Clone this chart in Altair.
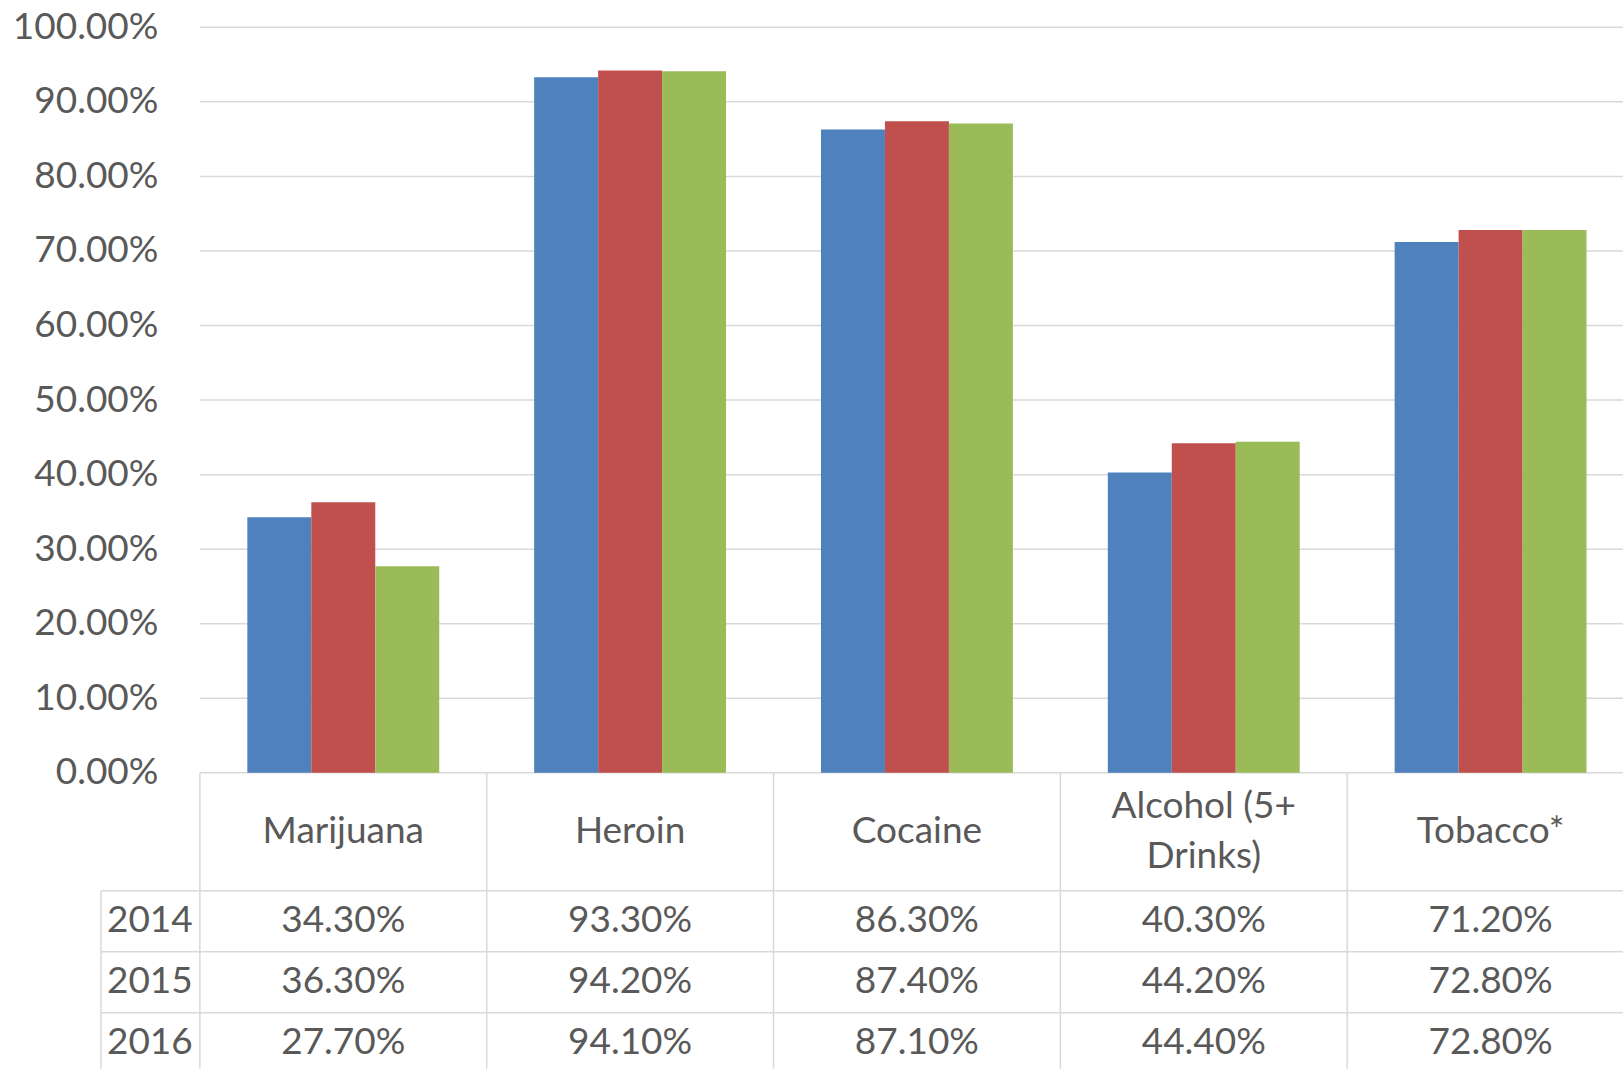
import altair as alt
import pandas as pd

# ---- data ----
categories = ["Marijuana", "Heroin", "Cocaine", "Alcohol (5+ Drinks)", "Tobacco*"]
header_labels = ["Marijuana", "Heroin", "Cocaine", "Alcohol (5+\nDrinks)", "Tobacco*"]
years = ["2014", "2015", "2016"]
values_2014 = [34.3, 93.3, 86.3, 40.3, 71.2]
values_2015 = [36.3, 94.2, 87.4, 44.2, 72.8]
values_2016 = [27.7, 94.1, 87.1, 44.4, 72.8]
y_ticks = [0, 10, 20, 30, 40, 50, 60, 70, 80, 90, 100]
colors = ["#4F81BD", "#C0504D", "#9BBB59"]

# ---- layout / style ----
W = 1424          # visible plot width
BAND_RANGE = 1435 # full category range (last band is cut by the window)
H_PLOT = 746
H_HEAD = 118
ROWS_RANGE = 183  # full range of the three table rows
H_BODY = 178      # visible part (the last row is cut by the window)
FONT = "Lato"
FS = 37
LH = 50
TXT = "#595959"
GRID = "#d9d9d9"
LW = 1.5

rows = []
for yr, vals in zip(years, [values_2014, values_2015, values_2016]):
    for c, v in zip(categories, vals):
        rows.append({"category": c, "year": yr, "value": v, "label": f"{v:.2f}%"})
df = pd.DataFrame(rows)
hdf = pd.DataFrame({"category": categories, "label": header_labels,
                    "nlines": [lab.count("\n") + 1 for lab in header_labels]})
rdf = pd.DataFrame({"row": years})
tdf = pd.DataFrame({"tick": y_ticks})

xscale = alt.Scale(domain=categories, range=[0, BAND_RANGE], paddingInner=0, paddingOuter=0)
yscale = alt.Scale(domain=[0, 100], nice=False, zero=True)
rowscale = alt.Scale(domain=years, range=[0, ROWS_RANGE], paddingInner=0, paddingOuter=0)

yaxis = alt.Axis(
    values=y_ticks, labelExpr="format(datum.value, '.2f') + '%'",
    ticks=False, domain=False, grid=False, labelPadding=42, title=None,
    labelFont=FONT, labelFontSize=FS, labelColor=TXT,
)

# ---- bar panel ----
grid = alt.Chart(tdf).mark_rule(color=GRID, strokeWidth=LW).encode(
    y=alt.Y("tick:Q", scale=yscale, axis=yaxis),
    x=alt.value(0), x2=alt.value(W),
)
bars = alt.Chart(df).mark_bar().encode(
    x=alt.X("category:N", scale=xscale, sort=categories, axis=None),
    xOffset=alt.XOffset("year:N", sort=years,
                        scale=alt.Scale(domain=years, paddingInner=0, paddingOuter=0.742)),
    y=alt.Y("value:Q", scale=yscale, axis=yaxis),
    color=alt.Color("year:N", scale=alt.Scale(domain=years, range=colors), legend=None),
)
top = alt.layer(grid, bars).properties(width=W, height=H_PLOT)

# ---- header row of the data table ----
head_lines = alt.Chart(hdf).mark_rule(color=GRID, strokeWidth=LW).encode(
    x=alt.X("category:N", scale=xscale, sort=categories, axis=None, bandPosition=0),
)
head_text1 = alt.Chart(hdf).transform_filter("datum.nlines == 1").mark_text(
    font=FONT, fontSize=FS, color=TXT, lineBreak="\n", lineHeight=LH, baseline="middle"
).encode(
    x=alt.X("category:N", scale=xscale, sort=categories, axis=None),
    text="label:N",
)
head_text2 = alt.Chart(hdf).transform_filter("datum.nlines == 2").mark_text(
    font=FONT, fontSize=FS, color=TXT, lineBreak="\n", lineHeight=LH, baseline="middle",
    dy=-LH / 2,
).encode(
    x=alt.X("category:N", scale=xscale, sort=categories, axis=None),
    text="label:N",
)
header = alt.layer(head_lines, head_text1, head_text2).properties(width=W, height=H_HEAD)

# ---- body of the data table ----
body_hlines = alt.Chart(rdf).mark_rule(color=GRID, strokeWidth=LW).encode(
    y=alt.Y("row:N", scale=rowscale, axis=None, bandPosition=0),
    x=alt.value(-99), x2=alt.value(W),
)
body_vlines = alt.Chart(hdf).mark_rule(color=GRID, strokeWidth=LW).encode(
    x=alt.X("category:N", scale=xscale, sort=categories, axis=None, bandPosition=0),
    y=alt.value(0), y2=alt.value(H_BODY),
)
year_vline = alt.Chart(rdf.head(1)).mark_rule(color=GRID, strokeWidth=LW).encode(
    x=alt.value(-99), y=alt.value(0), y2=alt.value(H_BODY),
)
year_text = alt.Chart(rdf).mark_text(
    font=FONT, fontSize=FS, color=TXT, align="left", baseline="middle"
).encode(
    x=alt.value(-93),
    y=alt.Y("row:N", scale=rowscale, axis=None),
    text="row:N",
)
val_text = alt.Chart(df).mark_text(
    font=FONT, fontSize=FS, color=TXT, baseline="middle"
).encode(
    x=alt.X("category:N", scale=xscale, sort=categories, axis=None),
    y=alt.Y("year:N", scale=rowscale, axis=None),
    text="label:N",
)
body = alt.layer(body_hlines, body_vlines, year_vline, year_text, val_text).properties(
    width=W, height=H_BODY
)

chart = (
    alt.vconcat(top, header, body, spacing=0, bounds="flush")
    .properties(padding={"left": 12, "top": 8, "right": 0, "bottom": 0}, background="white")
    .configure_view(stroke=None)
)

chart.save("out.html", embed_options={"renderer": "svg", "actions": False})
